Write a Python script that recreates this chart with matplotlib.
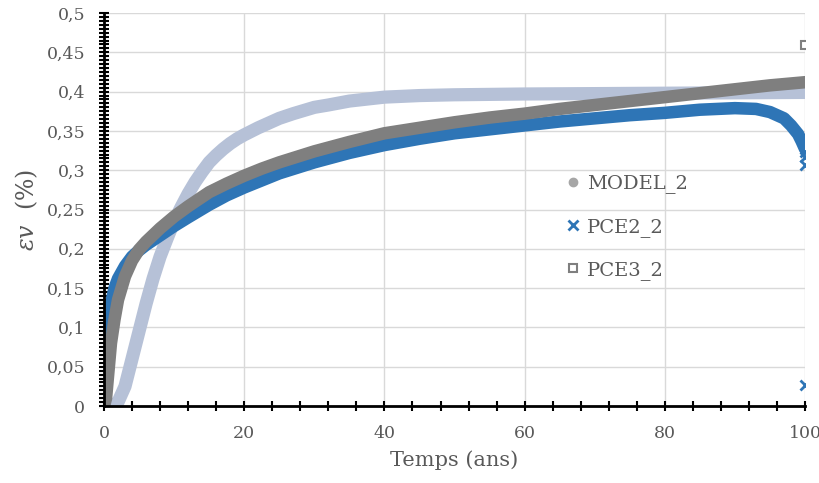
import matplotlib
matplotlib.use('Agg')
import matplotlib.pyplot as plt
from matplotlib.ticker import MultipleLocator, FuncFormatter
from matplotlib.lines import Line2D

# valeurs
t_model = [0, 0.3, 0.6, 1.0, 1.5, 2, 3, 4, 5, 6, 8, 10, 12, 15, 17.5, 20, 22.5, 25, 27.5, 30, 35,
           40, 45, 50, 55, 60, 65, 70, 75, 80, 85, 90, 95, 100]
model_2 = [0, 0.01, 0.04, 0.08, 0.11, 0.135, 0.165, 0.185, 0.199, 0.209, 0.226, 0.241, 0.254, 0.272,
           0.283, 0.293, 0.302, 0.31, 0.317, 0.324, 0.336, 0.347, 0.354, 0.361, 0.367, 0.372, 0.378,
           0.383, 0.388, 0.393, 0.398, 0.403, 0.408, 0.412]

t_pce2 = [0, 0.2, 0.5, 1, 1.5, 2, 3, 4, 5, 6, 8, 10, 12, 15, 17.5, 20, 22.5, 25, 27.5, 30, 35, 40,
          45, 50, 55, 60, 65, 70, 75, 80, 85, 90, 93, 95, 97, 98, 99, 99.5, 100]
pce2_2 = [0, 0.06, 0.1, 0.13, 0.15, 0.162, 0.178, 0.19, 0.198, 0.205, 0.217, 0.229, 0.24, 0.256,
          0.268, 0.278, 0.287, 0.296, 0.303, 0.31, 0.322, 0.332, 0.34, 0.347, 0.352, 0.357, 0.362,
          0.366, 0.37, 0.373, 0.377, 0.379, 0.378, 0.374, 0.366, 0.357, 0.346, 0.337, 0.327]
t_pce2_pts = [100, 100, 100, 100]
pce2_pts = [0.323, 0.317, 0.307, 0.027]

t_pce3 = [0, 1, 2, 3, 4, 5, 6, 7, 8, 9, 10, 11, 12, 13, 14, 15, 16, 17, 18, 19, 20, 22, 25, 27,
          30, 32, 35, 40, 45, 50, 60, 80, 100]
pce3_2 = [0, 0, 0.005, 0.025, 0.06, 0.095, 0.13, 0.162, 0.19, 0.213, 0.235, 0.253, 0.27, 0.285,
          0.298, 0.31, 0.319, 0.327, 0.334, 0.34, 0.345, 0.354, 0.366, 0.372, 0.38, 0.383, 0.388,
          0.393, 0.395, 0.396, 0.397, 0.398, 0.399]
t_pce3_pts = [100]
pce3_pts = [0.459]

c_model = '#7f7f7f'
c_pce2 = '#2e75b6'
c_pce3 = '#b6c1d7'
c_txt = '#595959'

plt.rcParams['font.family'] = ['DejaVu Serif']
plt.rcParams['mathtext.fontset'] = 'dejavuserif'

fig = plt.figure(figsize=(8.2, 4.83), dpi=100)
ax = fig.add_axes([0.1268, 0.1594, 0.855, 0.8136])

ax.plot(t_pce3, pce3_2, color=c_pce3, lw=9.5, solid_capstyle='round', solid_joinstyle='round', zorder=2)
ax.plot(t_pce2, pce2_2, color=c_pce2, lw=9, solid_capstyle='round', solid_joinstyle='round', zorder=3)
ax.plot(t_model, model_2, color=c_model, lw=9, solid_capstyle='round', solid_joinstyle='round', zorder=4)
ax.plot(t_pce2_pts, pce2_pts, ls='none', marker='x', ms=7, mew=2, color=c_pce2, zorder=5)
ax.plot(t_pce3_pts, pce3_pts, ls='none', marker='s', ms=6, mfc='white', mec=c_model, mew=1.5, zorder=5)

ax.set_xlim(0, 100)
ax.set_ylim(0, 0.5)
ax.xaxis.set_major_locator(MultipleLocator(20))
ax.xaxis.set_minor_locator(MultipleLocator(4))
ax.yaxis.set_major_locator(MultipleLocator(0.05))
ax.yaxis.set_minor_locator(MultipleLocator(0.005))
ax.yaxis.set_major_formatter(FuncFormatter(lambda v, p: ('%g' % round(v, 3)).replace('.', ',')))

ax.grid(True, which='major', color='#d9d9d9', lw=1, zorder=0)
ax.set_axisbelow(True)
for s in ['top', 'right']:
    ax.spines[s].set_visible(False)
for s in ['left', 'bottom']:
    ax.spines[s].set_linewidth(2)
    ax.spines[s].set_color('black')
    ax.spines[s].set_zorder(6)
ax.tick_params(which='both', direction='inout', length=7, width=1.5, color='black',
               labelsize=12.5, labelcolor=c_txt, pad=10)

ax.set_xlabel('Temps (ans)', fontsize=15, color=c_txt, labelpad=6)
ax.set_ylabel(r'$\varepsilon v$  (%)', fontsize=17, color=c_txt, labelpad=5)

handles = [
    Line2D([], [], ls='none', marker='o', ms=6, color='#a6a6a6'),
    Line2D([], [], ls='none', marker='x', ms=7, mew=2, color=c_pce2),
    Line2D([], [], ls='none', marker='s', ms=6, mfc='white', mec=c_model, mew=1.5),
]
ax.legend(handles, ['MODEL_2', 'PCE2_2', 'PCE3_2'], loc='center left', bbox_to_anchor=(0.633, 0.455),
          frameon=False, fontsize=14, labelcolor=c_txt, handlelength=0.8, handletextpad=0.3,
          labelspacing=1.25)

fig.savefig('out.png', dpi=100)
